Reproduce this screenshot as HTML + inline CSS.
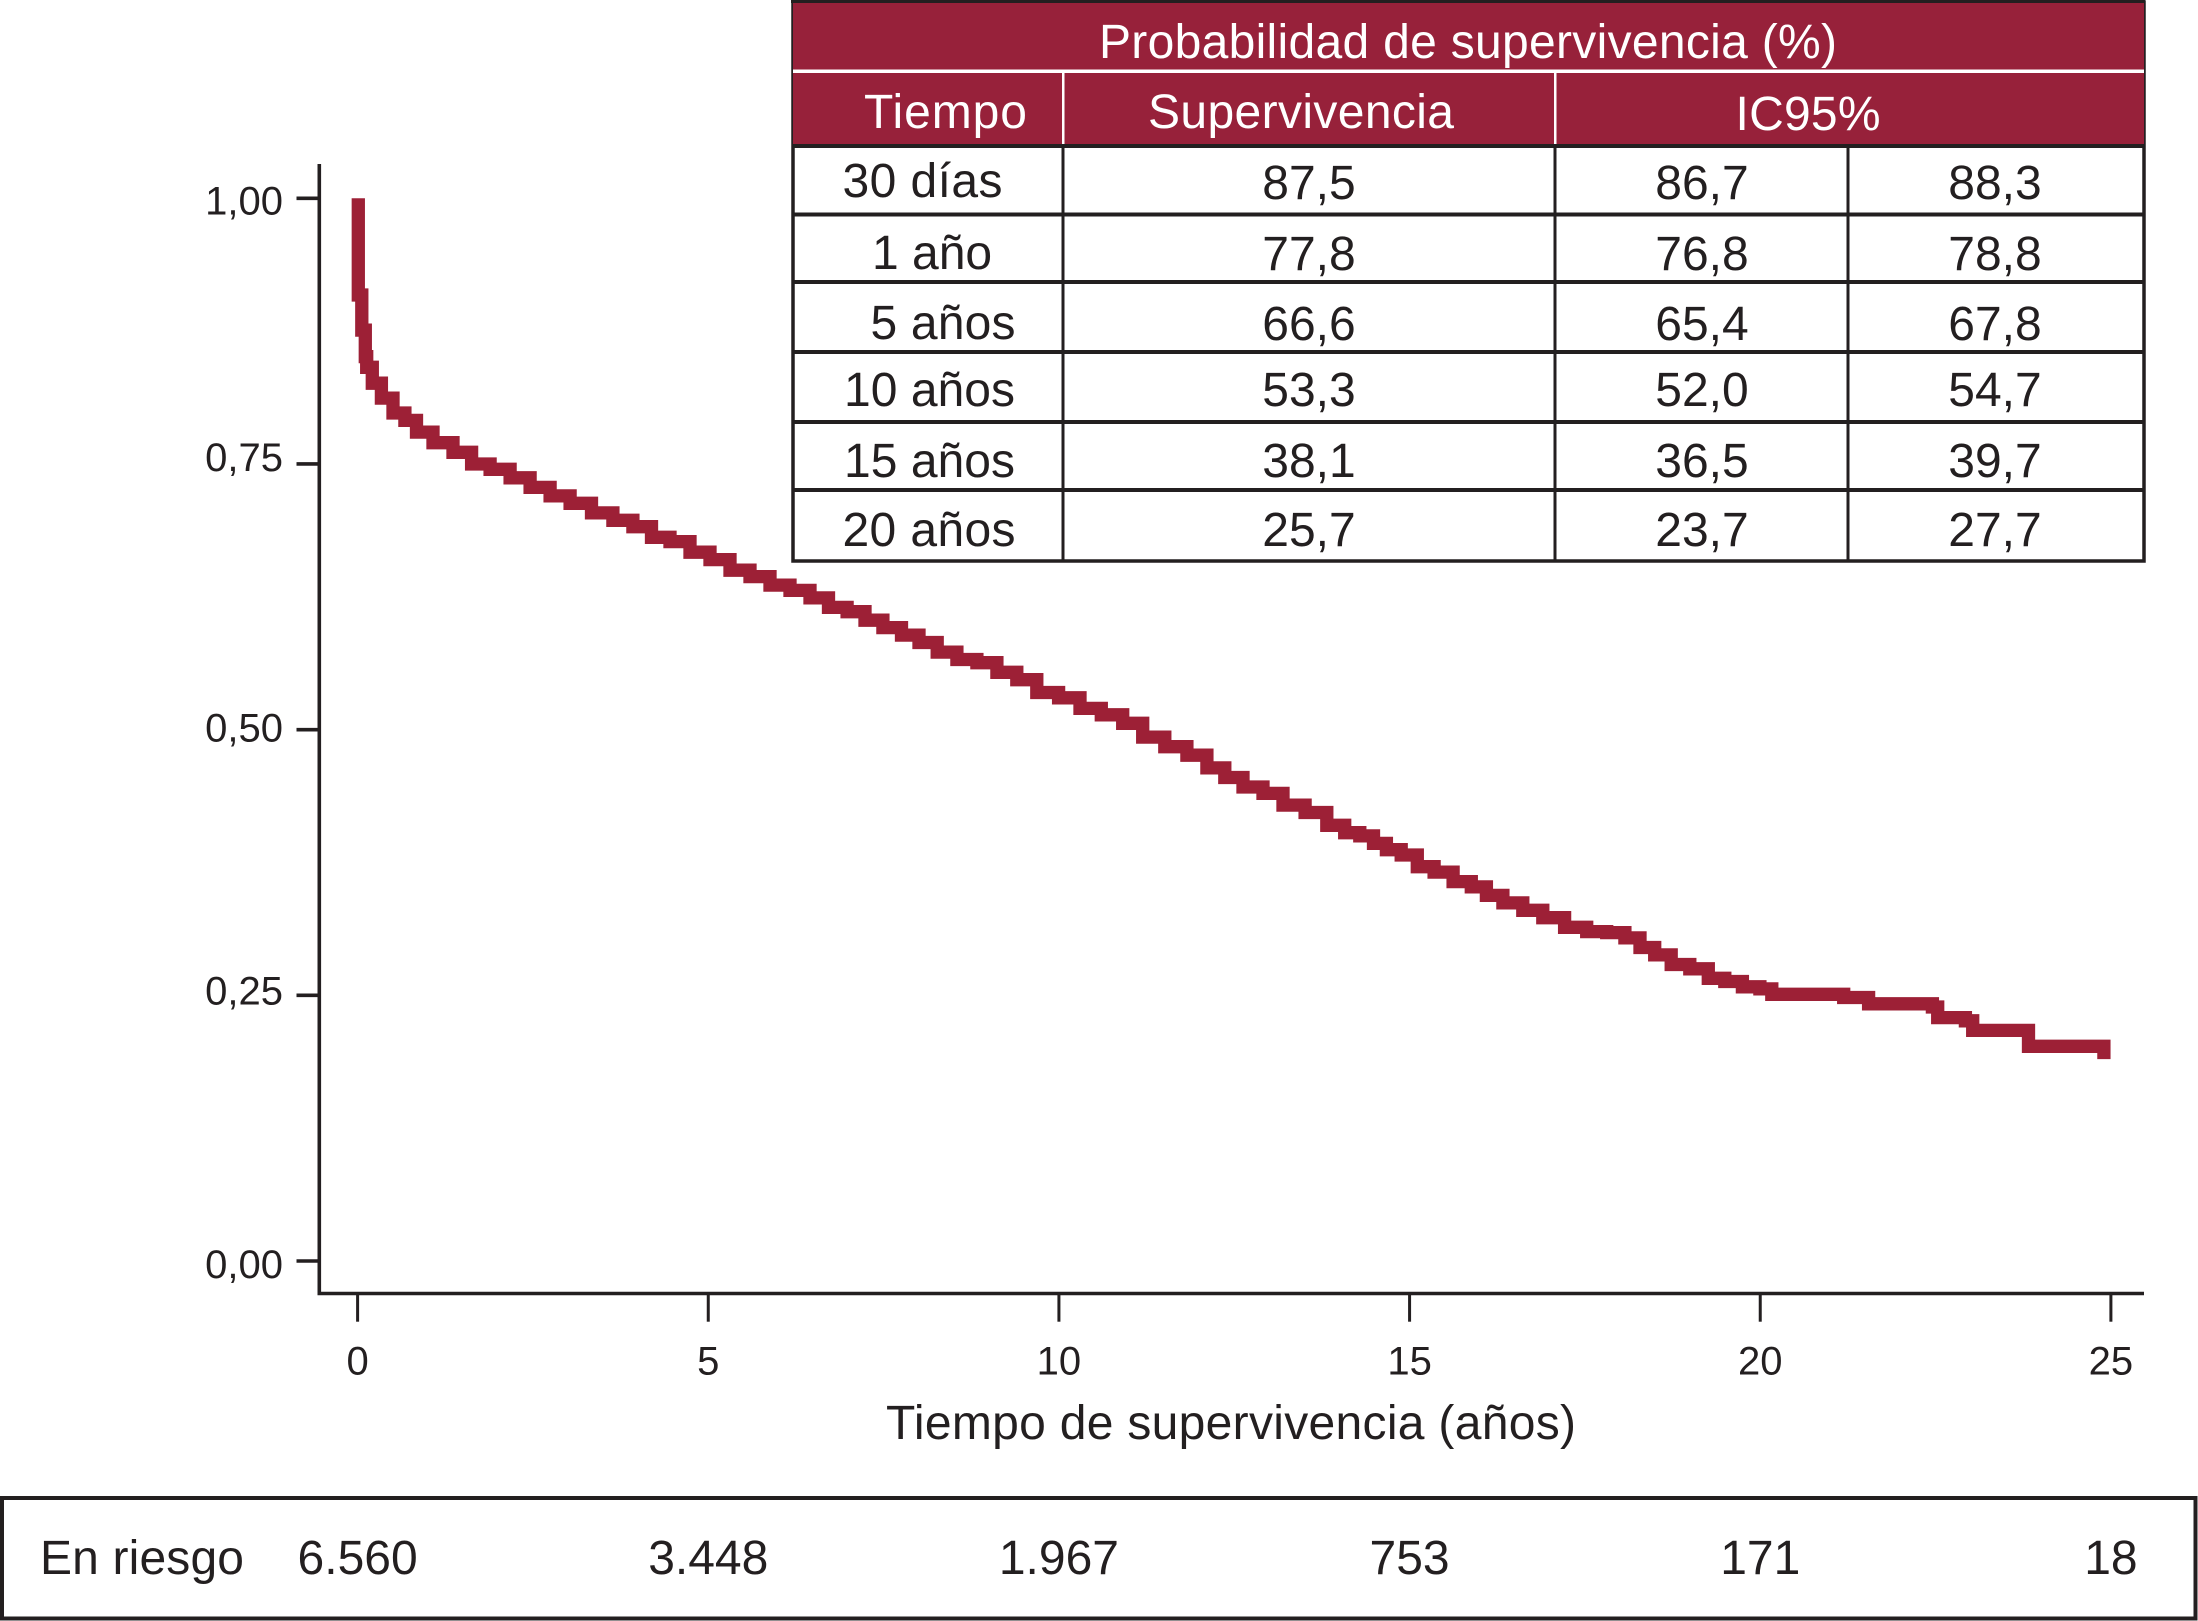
<!DOCTYPE html>
<html lang="es">
<head>
<meta charset="utf-8">
<title>Curva de supervivencia</title>
<style>
  html, body { margin: 0; padding: 0; background: #fff; }
  svg { display: block; }
  text { font-family: "Liberation Sans", sans-serif; fill: #231f20; }
</style>
</head>
<body>
<svg id="chart" xmlns="http://www.w3.org/2000/svg" width="2198" height="1621" viewBox="0 0 2198 1621">
  <rect x="0" y="0" width="2198" height="1621" fill="#ffffff"/>

  <g id="plot"></g>

  <g font-size="48">
    <rect x="793" y="2" width="1351" height="559" fill="#ffffff" stroke="#231f20" stroke-width="3.5"/>
    <rect x="793" y="3" width="1351" height="144" fill="#97213a"/>
    <line x1="791" y1="1.5" x2="2145" y2="1.5" stroke="#231f20" stroke-width="3"/>
    <rect x="793" y="69.5" width="1351" height="3.5" fill="#ffffff"/>
    <rect x="1062" y="73" width="2.5" height="72" fill="#ffffff"/>
    <rect x="1554" y="73" width="2.5" height="72" fill="#ffffff"/>
    <g stroke="#231f20" stroke-width="4">
      <line x1="793" y1="146" x2="2144" y2="146"/>
      <line x1="793" y1="214.5" x2="2144" y2="214.5"/>
      <line x1="793" y1="282" x2="2144" y2="282"/>
      <line x1="793" y1="352" x2="2144" y2="352"/>
      <line x1="793" y1="422" x2="2144" y2="422"/>
      <line x1="793" y1="490" x2="2144" y2="490"/>
      <line x1="1063" y1="146" x2="1063" y2="561" stroke-width="3"/>
      <line x1="1555" y1="146" x2="1555" y2="561" stroke-width="3"/>
      <line x1="1848" y1="146" x2="1848" y2="561" stroke-width="3"/>
    </g>

    <text x="1468" y="58" text-anchor="middle" font-size="48" textLength="738" style="fill:#fff">Probabilidad de supervivencia (%)</text>
    <text x="864" y="128" textLength="163" style="fill:#fff">Tiempo</text>
    <text x="1301" y="128" text-anchor="middle" textLength="306" style="fill:#fff">Supervivencia</text>
    <text x="1808" y="130" text-anchor="middle" textLength="145" style="fill:#fff">IC95%</text>

    <text x="842.5" y="197" textLength="160">30 días</text>
    <text x="872" y="269">1 año</text>
    <text x="870.5" y="339" textLength="145">5 años</text>
    <text x="844" y="406" textLength="171">10 años</text>
    <text x="844" y="477" textLength="171">15 años</text>
    <text x="842.5" y="546" textLength="173">20 años</text>

    <g text-anchor="middle">
      <text x="1309" y="199">87,5</text>
      <text x="1702" y="199">86,7</text>
      <text x="1995" y="199">88,3</text>
      <text x="1309" y="270">77,8</text>
      <text x="1702" y="270">76,8</text>
      <text x="1995" y="270">78,8</text>
      <text x="1309" y="340">66,6</text>
      <text x="1702" y="340">65,4</text>
      <text x="1995" y="340">67,8</text>
      <text x="1309" y="406">53,3</text>
      <text x="1702" y="406">52,0</text>
      <text x="1995" y="406">54,7</text>
      <text x="1309" y="477">38,1</text>
      <text x="1702" y="477">36,5</text>
      <text x="1995" y="477">39,7</text>
      <text x="1309" y="546">25,7</text>
      <text x="1702" y="546">23,7</text>
      <text x="1995" y="546">27,7</text>
    </g>
  </g>

  <rect x="2" y="1498" width="2193.5" height="120.5" fill="none" stroke="#231f20" stroke-width="4"/>
  <text x="40" y="1574" font-size="48" textLength="204">En riesgo</text>
  <g id="risk"></g>
</svg>

<script>
// Chart data
const yearTicks = [0, 5, 10, 15, 20, 25];
const survivalTicks = [1.00, 0.75, 0.50, 0.25, 0.00];
const survivalTickLabels = ["1,00", "0,75", "0,50", "0,25", "0,00"];
const atRiskCounts = ["6.560", "3.448", "1.967", "753", "171", "18"];

const years = [
  0.01, 0.01, 0.06, 0.06, 0.11, 0.11, 0.15, 0.27, 0.41, 0.60, 0.75, 0.93,
  1.22, 1.50, 1.75, 2.03, 2.32, 2.60, 2.89, 3.17, 3.50, 3.78, 4.07, 4.31,
  4.60, 4.88, 5.17, 5.45, 5.74, 6.02, 6.31, 6.59, 6.84, 7.12, 7.35, 7.63,
  7.88, 8.13, 8.40, 8.69, 8.97, 9.26, 9.54, 9.83, 10.16, 10.44, 10.77, 11.05,
  11.34, 11.68, 11.97, 12.25, 12.48, 12.77, 13.05, 13.34, 13.68, 13.96, 14.19, 14.39,
  14.58, 14.76, 15.00, 15.22, 15.48, 15.76, 16.00, 16.19, 16.47, 16.76, 17.04, 17.38,
  17.67, 17.95, 18.19, 18.38, 18.61, 18.85, 19.14, 19.38, 19.61, 19.88, 20.11, 20.22,
  21.14, 21.24, 21.49, 21.60, 22.38, 22.53, 22.53, 22.82, 23.03, 23.03, 23.74, 23.91,
  24.90, 24.90
];
const survival = [
  1.000, 0.909, 0.909, 0.876, 0.876, 0.851, 0.841, 0.826, 0.812, 0.798, 0.791, 0.780,
  0.770, 0.761, 0.750, 0.745, 0.737, 0.728, 0.720, 0.713, 0.704, 0.697, 0.691, 0.681,
  0.677, 0.667, 0.660, 0.650, 0.644, 0.636, 0.631, 0.624, 0.615, 0.611, 0.603, 0.596,
  0.589, 0.582, 0.573, 0.566, 0.563, 0.554, 0.547, 0.535, 0.530, 0.520, 0.514, 0.506,
  0.493, 0.484, 0.476, 0.464, 0.455, 0.446, 0.440, 0.429, 0.422, 0.410, 0.403, 0.400,
  0.393, 0.387, 0.382, 0.371, 0.366, 0.357, 0.352, 0.344, 0.337, 0.330, 0.323, 0.314,
  0.310, 0.309, 0.304, 0.295, 0.288, 0.279, 0.275, 0.266, 0.263, 0.258, 0.256, 0.251,
  0.251, 0.248, 0.248, 0.242, 0.242, 0.239, 0.229, 0.229, 0.226, 0.217, 0.217, 0.202,
  0.202, 0.190
];

const INK = "#231f20";
const SVGNS = "http://www.w3.org/2000/svg";
const xScale = function (t) { return 357.6 + t * (2110.9 - 357.6) / 25; };
const yScale = function (v) { return 1261 - v * (1261 - 198.3); };

function make(tag, parent, props, content) {
  const node = document.createElementNS(SVGNS, tag);
  Object.keys(props).forEach(function (k) { node.setAttribute(k, props[k]); });
  if (content !== undefined) node.textContent = content;
  parent.appendChild(node);
  return node;
}

const plot = document.getElementById("plot");
const risk = document.getElementById("risk");

// Axes
const yAxis = make("line", plot, { x1: 319.3, y1: 164, x2: 319.3, y2: 1295, stroke: INK, "stroke-width": 3.6 });


const xAxis = make("line", plot, { x1: 317.5, y1: 1293.5, x2: 2144, y2: 1293.5, stroke: INK, "stroke-width": 3.6 });



// Y ticks; the source figure sets each label at a slightly different height
const yLabelNudge = [16, 7, 12, 9, 17];
survivalTicks.forEach(function (v, i) {
  const y = yScale(v);
  const tick = make("line", plot, { x1: 296.5, y1: y, x2: 319, y2: y, stroke: INK, "stroke-width": 3.6 });
  
  
  const label = make("text", plot, { x: 283, y: y + yLabelNudge[i], "text-anchor": "end", "font-size": 40 }, survivalTickLabels[i]);
  
  
});

// X ticks and at-risk row
yearTicks.forEach(function (t, i) {
  const x = xScale(t);
  const tick = make("line", plot, { x1: x, y1: 1293.5, x2: x, y2: 1321.7, stroke: INK, "stroke-width": 3 });
  
  
  const label = make("text", plot, { x: x, y: 1374.5, "text-anchor": "middle", "font-size": 40 }, String(t));
  
  
  const count = make("text", risk, { x: x, y: 1574, "text-anchor": "middle", "font-size": 48 }, atRiskCounts[i]);
  
  
});

const xTitle = make("text", plot, { x: 1231, y: 1439, "text-anchor": "middle", "font-size": 48, textLength: 690 }, "Tiempo de supervivencia (años)");



// Survival curve: a Kaplan-Meier staircase, dropping midway between readings
let curvePath = "M" + xScale(years[0]).toFixed(1) + " " + yScale(survival[0]).toFixed(1);
for (let i = 1; i < years.length; i++) {
  const x0 = xScale(years[i - 1]);
  const x1 = xScale(years[i]);
  const xm = (x0 + x1) / 2;
  const y1 = yScale(survival[i]);
  curvePath += " H" + xm.toFixed(1) + " V" + y1.toFixed(1) + " H" + x1.toFixed(1);
}
const curve = make("path", plot, {
  d: curvePath,
  fill: "none",
  stroke: "#9d2036",
  "stroke-width": 13.3,
  "stroke-linejoin": "miter",
  "stroke-miterlimit": 3,
  "stroke-linecap": "butt"
});


</script>
</body>
</html>
